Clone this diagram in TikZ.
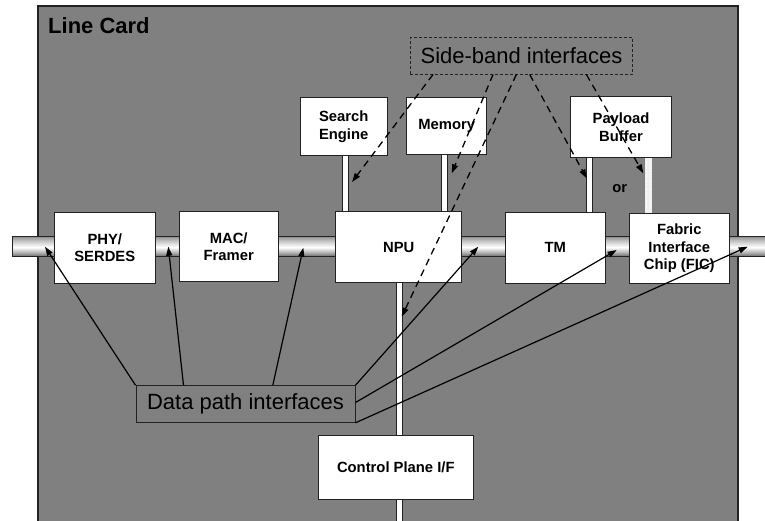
\documentclass[tikz,border=0pt]{standalone}
\usepackage{fontspec}
\setmainfont{Liberation Sans}
\usetikzlibrary{arrows.meta,calc}

\definecolor{cardgray}{HTML}{808080}
\definecolor{edge}{HTML}{222222}
\definecolor{pipetop}{HTML}{8A8A8A}
\definecolor{pipebot}{HTML}{686868}

\tikzset{
  block/.style={draw=edge, line width=0.9pt, fill=white, inner sep=0pt,
    align=center, font=\fontsize{14.8}{17.5}\selectfont\bfseries},
  biglabel/.style={inner sep=0pt, align=center, font=\fontsize{22}{26}\selectfont},
  vpipe/.style={draw=edge, line width=0.8pt, fill=white},
  datapath/.style={-{Triangle[length=9pt,width=6pt]}, line width=1.2pt, black},
  sideband/.style={-{Triangle[length=9pt,width=6pt]}, line width=1.3pt, black,
    dash pattern=on 7pt off 5pt},
}

\begin{document}
\begin{tikzpicture}[x=1pt, y=-1pt]
\useasboundingbox (0,0) rectangle (765,520);
\fill[white] (0,0) rectangle (765,520);

% line card body, running off the bottom edge
\begin{scope}
  \clip (0,0) rectangle (765,520);
  \filldraw[fill=cardgray, draw=edge, line width=1.2pt] (38,6) rectangle (738,530);
\end{scope}
\node[anchor=base west, inner sep=0pt, font=\fontsize{22}{26}\selectfont\bfseries]
  (title) at (48,33) {Line Card};

% main data-path bus: a cylinder built from thin horizontal bands
\begin{scope}
  \clip (0,0) rectangle (765,520);
  \foreach \i in {0,...,39}{
    \pgfmathsetmacro{\t}{\i/39}
    \pgfmathsetmacro{\w}{ifthenelse(\t<0.55, 100*(\t/0.55)^0.8, 100*((1-\t)/0.45)^0.8)}
    \ifdim\t pt<0.55pt \colorlet{band}{white!\w!pipetop}\else\colorlet{band}{white!\w!pipebot}\fi
    \fill[band] (12,236.7+\i*0.5) rectangle (775,236.7+\i*0.5+0.6);
  }
  \draw[edge, line width=0.9pt] (775,236.7) -- (12,236.7) -- (12,256.7) -- (775,256.7);
\end{scope}

% side-band and control pipes
\filldraw[vpipe] (342,150) rectangle (348,215);
\filldraw[vpipe] (441.7,150) rectangle (447.7,215);
\filldraw[vpipe] (586.7,150) rectangle (592.7,215);
\fill[white!88!gray] (645,150) rectangle (652,215);
\draw[white, dotted, line width=0.6pt] (646.5,158) -- (646.5,213) (650.5,158) -- (650.5,213);
\begin{scope}
  \clip (0,0) rectangle (765,520);
  \filldraw[vpipe] (396,280) rectangle (402,530);
\end{scope}

% functional blocks
\node[block, minimum width=101pt, minimum height=71pt] (phy) at (104.8,247.8) {PHY/\\SERDES};
\node[block, minimum width=99pt, minimum height=70pt] (mac) at (228.7,246.9) {MAC/\\Framer};
\node[block, minimum width=126pt, minimum height=70.6pt] (npu) at (398.7,247) {NPU};
\node[block, minimum width=100.7pt, minimum height=71pt] (tm) at (555.3,247.8) {TM};
\node[block, minimum width=100pt, minimum height=70pt] (fic) at (679.3,248.3) {Fabric\\Interface\\Chip (FIC)};
\node[block, minimum width=87.3pt, minimum height=58pt] (se) at (343.7,126.7) {Search\\Engine};
\node[block, minimum width=80pt, minimum height=57pt] (mem) at (446.7,126.2) {Memory};
\node[block, minimum width=101.4pt, minimum height=60.6pt] (pb) at (621,127) {Payload\\Buffer};
\node[block, minimum width=155pt, minimum height=63.6pt] (cp) at (395.8,467.5) {Control Plane I/F};
\node[inner sep=0pt, font=\fontsize{14.8}{17.5}\selectfont\bfseries] (or) at (619.7,189) {or};

% interface group labels
\node[biglabel, draw=edge, line width=0.9pt, dashed, dash pattern=on 3pt off 2pt,
  minimum width=222.7pt, minimum height=36.3pt] (sb) at (521.5,55.9) {Side-band interfaces};
\node[biglabel, draw=edge, line width=1pt, fill=cardgray,
  minimum width=219pt, minimum height=36.6pt] (dp) at (245.5,404) {Data path interfaces};

% arrow targets on the pipes
\coordinate (busA) at (45,246.7);
\coordinate (busB) at (168.3,246.7);
\coordinate (busC) at (303.3,247.7);
\coordinate (busD) at (478.3,246.7);
\coordinate (busE) at (616.7,250);
\coordinate (busF) at (747.7,246.7);
\coordinate (seP) at (352,182);
\coordinate (memP) at (451.7,173.3);
\coordinate (cpP) at (401.7,316.7);
\coordinate (tmP) at (586.7,178.3);
\coordinate (ficP) at (643.3,173.3);

% data path interface arrows
\draw[datapath] (dp.north west) -- (busA);
\draw[datapath] ([xshift=48pt]dp.north west) -- (busB);
\draw[datapath] ([xshift=137.3pt]dp.north west) -- (busC);
\draw[datapath] (dp.north east) -- (busD);
\draw[datapath] ([yshift=-17.3pt]dp.north east) -- (busE);
\draw[datapath] (dp.south east) -- (busF);

% side-band interface arrows
\draw[sideband] ([xshift=23.3pt]sb.south west) -- (seP);
\draw[sideband] ([xshift=83.3pt]sb.south west) -- (memP);
\draw[sideband] ([xshift=106.7pt]sb.south west) -- (cpP);
\draw[sideband] ([xshift=120pt]sb.south west) -- (tmP);
\draw[sideband] ([xshift=176.7pt]sb.south west) -- (ficP);
\end{tikzpicture}
\end{document}
